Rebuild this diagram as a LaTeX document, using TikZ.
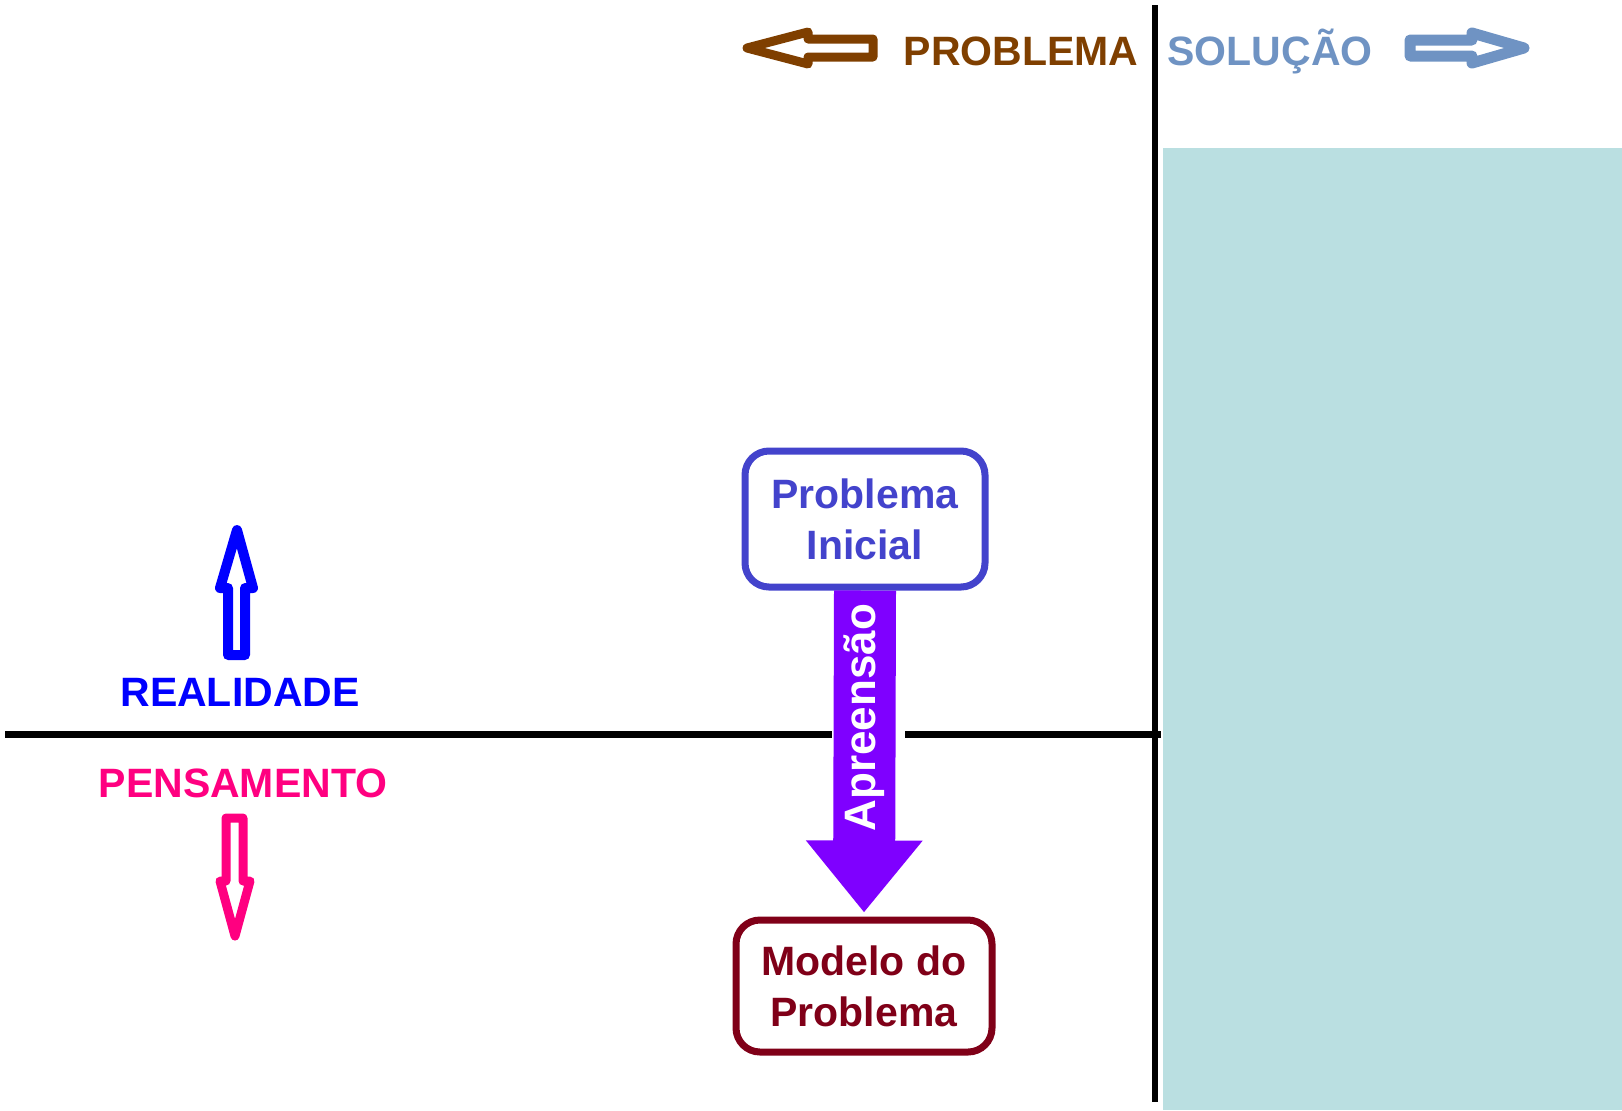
\documentclass[tikz,border=0pt]{standalone}
\usepackage{fontspec}
\setmainfont{Liberation Sans}
\usetikzlibrary{arrows.meta}

\definecolor{marrom}{HTML}{7F3F00}
\definecolor{acoazul}{HTML}{6F93C3}
\definecolor{agua}{HTML}{BADFE1}
\definecolor{azulreal}{HTML}{0000FF}
\definecolor{rosa}{HTML}{FF0080}
\definecolor{azulcaixa}{HTML}{4343CC}
\definecolor{vinho}{HTML}{800018}
\definecolor{roxo}{HTML}{7F00FF}

\tikzset{
	rotulo/.style={font=\bfseries\fontsize{20.5}{25.5}\selectfont, inner sep=0pt},
	caixa/.style={rotulo, draw, line width=3.5pt, rounded corners=12pt, align=center},
	divisa/.style={line width=3pt},
	seta/.style={line width=#1, line join=round},
}

\begin{document}
\begin{tikzpicture}[x=0.5pt,y=-0.5pt]
			\useasboundingbox (0,0) rectangle (1622,1110);
			\fill[agua] (1163,148) rectangle (1622,1110);
			% linhas divisorias
			\coordinate (hl) at (5,734);
			\coordinate (hm1) at (832,734);
			\coordinate (hm2) at (905,734);
			\coordinate (hr) at (1161,734);
			\coordinate (vt) at (1155,5);
			\coordinate (vb) at (1155,1102);
			\draw[divisa, line width=3.5pt] (hl) -- (hm1) (hm2) -- (hr);
			\draw[divisa] (vt) -- (vb);
			% topo
			\node[rotulo, text=marrom, anchor=base] (prob) at (1021,65) {PROBLEMA};
			\node[rotulo, text=acoazul, anchor=base] (sol) at (1270,65) {SOLUÇÃO};
			\draw[seta=4.5pt, marrom] (747,48) -- (808,32) -- (808,39) -- (873,39) -- (873,57) -- (808,57) -- (808,64) -- cycle;
			\draw[seta=5.5pt, acoazul] (1524,48) -- (1472,33) -- (1472,40) -- (1410,40) -- (1410,56) -- (1472,56) -- (1472,63) -- cycle;
			% lado esquerdo
			\node[rotulo, text=azulreal, anchor=base] (real) at (240,706) {REALIDADE};
			\node[rotulo, text=rosa, anchor=base] (pens) at (243,797) {PENSAMENTO};
			\draw[seta=5pt, azulreal] (237,530) -- (253,588) -- (245,588) -- (245,655) -- (228,655) -- (228,588) -- (220,588) -- cycle;
			\draw[seta=4.5pt, rosa] (226,818) -- (243,818) -- (243,881) -- (250,881) -- (235,936) -- (220,881) -- (226,881) -- cycle;
			% caixas
			\node[caixa, azulcaixa, text=azulcaixa, minimum width=120pt, minimum height=68pt] (ini) at (865,519) {Problema\\Inicial};
			\node[caixa, vinho, text=vinho, minimum width=128pt, minimum height=66pt] (mod) at (864,986) {Modelo do\\Problema};
			\draw[roxo, line width=31pt, -{Triangle[width=56pt,length=36pt]}, shorten >=2pt] (ini.south) -- node[rotulo, pos=0.39, rotate=90, text=white, font=\bfseries\fontsize{22}{26}\selectfont] (apr) {Apreensão} (mod.north);
		\end{tikzpicture}
\end{document}
